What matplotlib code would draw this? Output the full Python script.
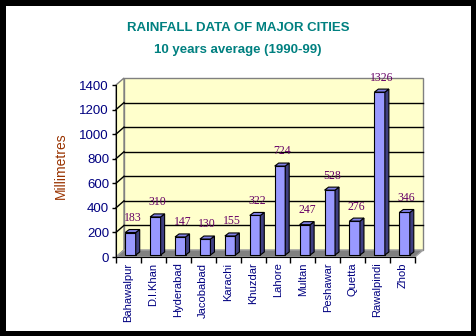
import matplotlib
matplotlib.use("Agg")
import matplotlib.pyplot as plt
from matplotlib.patches import Rectangle, Polygon
import numpy as np

cities = ["Bahawalpur", "D.I.Khan", "Hyderabad", "Jacobabad", "Karachi", "Khuzdar",
          "Lahore", "Multan", "Peshawar", "Quetta", "Rawalpindi", "Zhob"]
rainfall = [183, 310, 147, 130, 155, 322, 724, 247, 528, 276, 1326, 346]
yticks = [0, 200, 400, 600, 800, 1000, 1200, 1400]

plt.rcParams['font.family'] = ['Liberation Sans', 'DejaVu Sans']
serif = "Liberation Serif"

W, H = 477, 336
fig = plt.figure(figsize=(W / 100, H / 100), dpi=100, facecolor='black')
fig.add_artist(Rectangle((6 / W, 5 / H), 465 / W, 325 / H, transform=fig.transFigure,
                         facecolor='white', edgecolor='none', zorder=-10))

# front axes box in pixels: x 116..415, y 85..257
ax = fig.add_axes([116 / W, (H - 257) / H, 299 / W, 172 / H])
ax.set_xlim(-0.5, 11.5)
ax.set_ylim(0, 1400)
ax.patch.set_visible(False)

pxx = 299 / 12.0      # pixels per category
pxy = 172 / 1400.0    # pixels per mm
DX, DY = 8 / pxx, 7 / pxy   # depth of the walls

x0, x1 = -0.5, 11.5
# back wall
ax.add_patch(Rectangle((x0 + DX, DY), x1 - x0, 1400, facecolor='#FFFFCC',
                       edgecolor='#808080', lw=1, clip_on=False, zorder=1))
# left wall
ax.add_patch(Polygon([(x0, 0), (x0, 1400), (x0 + DX, 1400 + DY), (x0 + DX, DY)],
                     closed=True, facecolor='#FFFFCC', edgecolor='#808080', lw=1,
                     clip_on=False, zorder=1))
# floor
ax.add_patch(Polygon([(x0, 0), (x1, 0), (x1 + DX, DY), (x0 + DX, DY)], closed=True,
                     facecolor='#808080', edgecolor='#A0A0A0', lw=1, clip_on=False, zorder=2))
# gridlines on the back wall
for v in yticks[1:-1]:
    ax.plot([x0 + DX, x1 + DX], [v + DY, v + DY], color='black', lw=1, clip_on=False, zorder=3)
    ax.plot([x0, x0 + DX], [v, v + DY], color='black', lw=1, clip_on=False, zorder=3)

# bars (placed mid-depth)
x = np.arange(len(cities))
bx, by = 2 / pxx, 2 / pxy
bw = 10.5 / pxx
ddx, ddy = 4 / pxx, 3 / pxy
ax.bar(x + bx, rainfall, width=bw, bottom=by, color='#9999FF', edgecolor='black',
       lw=0.8, zorder=5, clip_on=False)
for xi, v in zip(x, rainfall):
    r = xi + bx + bw / 2
    l = xi + bx - bw / 2
    t = v + by
    ax.add_patch(Polygon([(r, by), (r + ddx, by + ddy), (r + ddx, t + ddy), (r, t)], closed=True,
                         facecolor='#3F3F80', edgecolor='black', lw=0.8, clip_on=False, zorder=5))
    ax.add_patch(Polygon([(l, t), (r, t), (r + ddx, t + ddy), (l + ddx, t + ddy)], closed=True,
                         facecolor='#8080E6', edgecolor='black', lw=0.8, clip_on=False, zorder=5))
    ax.annotate(str(v), (xi + bx + ddx / 2, t + ddy), xytext=(0, 4), textcoords='offset points',
                ha='center', va='bottom', color='#660066', fontsize=8.5, family=serif,
                annotation_clip=False, zorder=6)

# axes
for s in ['top', 'right']:
    ax.spines[s].set_visible(False)
ax.spines['left'].set_zorder(7)
ax.spines['bottom'].set_zorder(7)
ax.set_yticks(yticks)
ax.set_yticklabels([str(v) for v in yticks])
ax.tick_params(axis='y', direction='out', length=3, width=1, pad=2,
               labelsize=9.5, labelcolor='#000080')
ax.set_xticks(np.arange(-0.5, 12, 1.0))
ax.set_xticklabels([])
ax.set_xticks(x, minor=True)
ax.set_xticklabels(cities, minor=True, rotation=90)
ax.tick_params(axis='x', which='major', direction='out', length=4, width=1)
ax.tick_params(axis='x', which='minor', length=0, pad=4, labelsize=8, labelcolor='#000080')

fig.text(61 / W, 1 - 166 / H, "Millimetres", rotation=90, ha='center', va='center',
         color='#993300', fontsize=10)
fig.text(238 / W, 1 - 28 / H, "RAINFALL DATA OF MAJOR CITIES", ha='center', va='center',
         color='#008080', fontsize=9.5, fontweight='bold')
fig.text(238 / W, 1 - 49.5 / H, "10 years average (1990-99)", ha='center', va='center',
         color='#008080', fontsize=9.5, fontweight='bold')

fig.savefig("out.png", dpi=100, facecolor=fig.get_facecolor())
